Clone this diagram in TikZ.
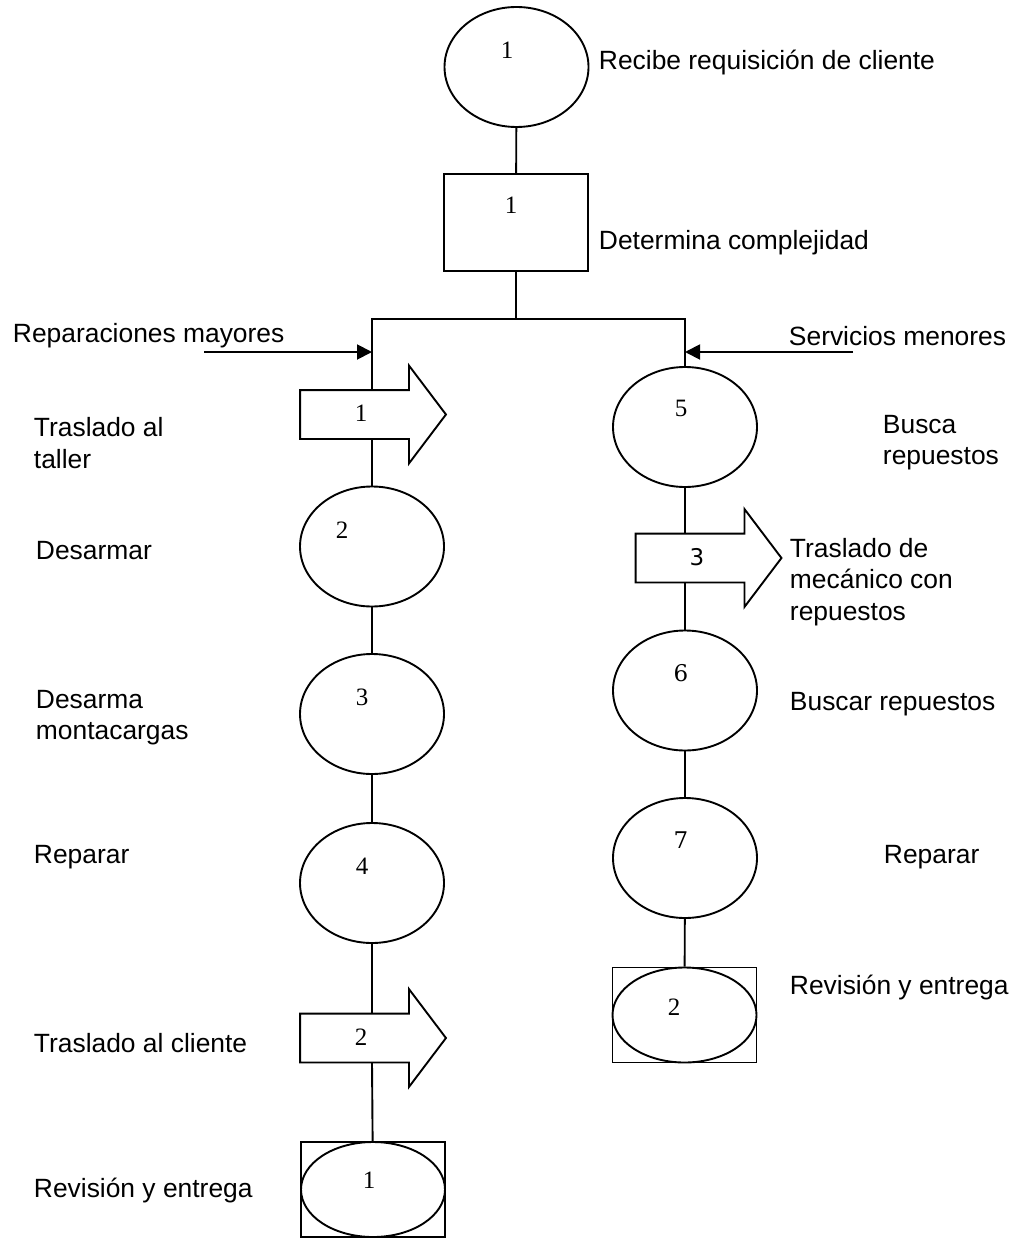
\documentclass[tikz,border=0pt]{standalone}
\usepackage{fontspec}
\setmainfont{Liberation Sans}
\newfontfamily\numfont{Liberation Serif}
\newfontfamily\numserif{DejaVu Serif}
\newfontfamily\numsans{DejaVu Sans}
\usetikzlibrary{shapes.geometric,arrows.meta}

\tikzset{
  every path/.style={line width=1.9pt},
  oval/.style={ellipse, draw, line width=1.9pt, minimum width=144pt, minimum height=120pt, inner sep=0pt},
  opbox/.style={rectangle, draw, line width=1.9pt, minimum width=144pt, minimum height=97pt, inner sep=0pt},
  movebody/.style={rectangle, minimum width=107pt, minimum height=47pt, inner sep=0pt},
  framebox/.style={rectangle, draw, line width=1.9pt, minimum width=144pt, minimum height=95pt, inner sep=0pt},
  frameoval/.style={ellipse, draw, line width=1.9pt, minimum width=144pt, minimum height=95pt, inner sep=0pt},
  num/.style={inner sep=0pt, font=\numfont\fontsize{25}{30}\selectfont},
  lbl/.style={anchor=west, inner sep=0pt, align=left, font=\fontsize{26.4}{31.2}\selectfont},
  feed/.style={-{Triangle[length=15pt,width=15pt]}}
}

% outline of a transport arrow around its body node
\newcommand\movearrow[1]{%
  \draw[line join=miter] (#1.north east) -- (#1.north west) -- (#1.south west) -- (#1.south east)
    -- ([yshift=-24.5pt]#1.south east) -- ([xshift=37pt]#1.east)
    -- ([yshift=24.5pt]#1.north east) -- cycle;}

\begin{document}
\begin{tikzpicture}[x=1pt, y=-1pt]
\useasboundingbox (0,0) rectangle (1014,1238);

% --- common start ---
\node[oval] (e1) at (516.5,67) {};
\node[num] (n-e1) at (507,50) {1};
\node[opbox] (r1) at (516,222.5) {};
\node[num] (n-r1) at (511,205) {1};

\coordinate (split) at (516,319);
\coordinate (barL) at (372,319);
\coordinate (barR) at (685,319);
\coordinate (inL) at (204,352);
\coordinate (inR) at (853,352);
\coordinate (hitL) at (372,352);
\coordinate (hitR) at (685,352);

% --- left branch ---
\node[movebody] (a1) at (354.5,414.5) {};
\node[num] (n-a1) at (361,413) {1};
\node[oval] (e2) at (372,546.5) {};
\node[num] (n-e2) at (342,530) {2};
\node[oval] (e3) at (372,714) {};
\node[num] (n-e3) at (362,697) {3};
\node[oval] (e4) at (372,883) {};
\node[num] (n-e4) at (362,866) {4};
\node[movebody] (a2) at (354.5,1038) {};
\node[num] (n-a2) at (361,1037) {2};
\node[framebox] (c1) at (373,1189.5) {};
\node[frameoval] (c1o) at (373,1189.5) {};
\node[num] (n-c1) at (369,1180) {1};

% --- right branch ---
\node[oval] (e5) at (685,427) {};
\node[num] (n-e5) at (681,408) {5};
\node[movebody] (a3) at (690,558) {};
\node[num, font=\numsans\fontsize{23}{28}\selectfont] (n-a3) at (697,557) {3};
\node[oval] (e6) at (685,690.5) {};
\node[num, font=\numserif\fontsize{23}{28}\selectfont] (n-e6) at (681,673) {6};
\node[oval] (e7) at (685,858) {};
\node[num, font=\numserif\fontsize{23}{28}\selectfont] (n-e7) at (681,840) {7};
\node[framebox] (c2) at (684.5,1015) {};
\node[frameoval] (c2o) at (684.5,1015) {};
\node[num] (n-c2) at (674,1007) {2};

% transport arrow outlines
\movearrow{a1}
\movearrow{a2}
\movearrow{a3}

% --- connectors ---
\draw (e1) -- (r1);
\draw (r1) -- (split);
\draw[line join=miter] (a1.north -| barL) -- (barL) -- (barR) -- (e5);
\draw (a1.south -| barL) -- (e2);
\draw (e2) -- (e3);
\draw (e3) -- (e4);
\draw (e4) -- (a2.north -| e4);
\draw (a2.south -| e4) -- (c1);
\draw (e5) -- (a3.north -| e5);
\draw (a3.south -| e5) -- (e6);
\draw (e6) -- (e7);
\draw (e7) -- (c2);
\draw[feed] (inL) -- (hitL);
\draw[feed] (inR) -- (hitR);

% --- labels ---
\node[lbl] (t-recibe) at (598,63) {Recibe requisición de cliente};
\node[lbl] (t-determina) at (598,243) {Determina complejidad};
\node[lbl] (t-mayores) at (12,336) {Reparaciones mayores};
\node[lbl] (t-menores) at (788,336) {Servicios menores};
\node[lbl] (t-taller) at (33,443) {Traslado al\\taller};
\node[lbl] (t-desarmar) at (35,551) {Desarmar};
\node[lbl] (t-montacargas) at (35,718) {Desarma\\montacargas};
\node[lbl] (t-reparar1) at (33,857) {Reparar};
\node[lbl] (t-cliente) at (33,1043) {Traslado al cliente};
\node[lbl] (t-entrega1) at (33,1191) {Revisión y entrega};
\node[lbl] (t-busca) at (882,443) {Busca\\repuestos};
\node[lbl] (t-mecanico) at (789,582) {Traslado de\\mecánico con\\repuestos};
\node[lbl] (t-buscar) at (789,704) {Buscar repuestos};
\node[lbl] (t-reparar2) at (883,857) {Reparar};
\node[lbl] (t-entrega2) at (789,988) {Revisión y entrega};
\end{tikzpicture}
\end{document}
